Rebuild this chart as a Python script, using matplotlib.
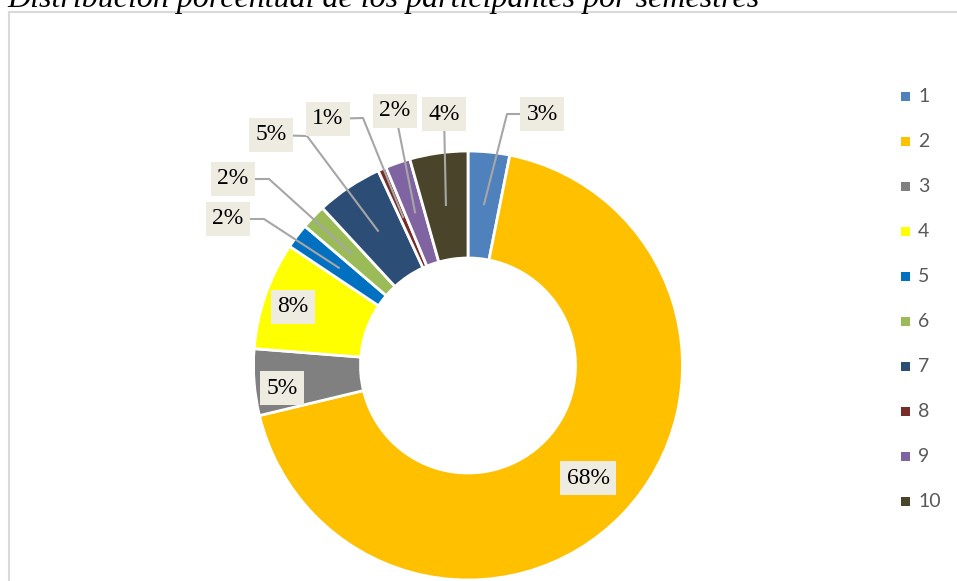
import numpy as np
import matplotlib
matplotlib.use('Agg')
import matplotlib.pyplot as plt
from matplotlib.patches import Rectangle

# semestre -> numero de participantes
semestres = ['1', '2', '3', '4', '5', '6', '7', '8', '9', '10']
participantes = [5, 109, 8, 13, 3, 3, 8, 1, 3, 7]
colores = ['#4F81BD', '#FFC000', '#808080', '#FFFF00', '#0070C0',
           '#9BBB59', '#2C4D75', '#772C2A', '#8064A2', '#4A452A']
titulo = 'Distribución porcentual de los participantes por semestres'

W, H = 957, 581
fig = plt.figure(figsize=(W / 100, H / 100), dpi=100)
ax = fig.add_axes([0, 0, 1, 1])

def py(y):
    # pixel row (top = 0) -> data y
    return H - y

cx, cy = 468, py(365.5)
R, r_in = 214.5, 107.5

wedges, _ = ax.pie(participantes, colors=colores, radius=R, center=(cx, cy),
                   startangle=90, counterclock=False,
                   wedgeprops=dict(width=R - r_in, edgecolor='white', linewidth=2))

ax.set_xlim(0, W)
ax.set_ylim(0, H)
ax.set_aspect('equal')
ax.set_axis_off()

# marco del grafico
ax.add_patch(Rectangle((9, py(900)), 1200, 900 - 11.5, fill=False,
                       edgecolor='#D9D9D9', lw=1.5, zorder=0))

total = sum(participantes)
etiquetas = [f"{v / total * 100:.0f}%" for v in participantes]

# posicion de cada etiqueta (px) y codo de la linea guia
pos_etq = [(542, 114), (588, 478), (282, 388), (293, 307), (228, 219),
           (233, 179), (271, 135), (328, 119), (395, 111), (444, 114)]
codos = [(507, 114), None, None, None, (264, 219),
         (269, 179), (307, 136), (363, 118), 'direct', 'direct']

for i, w in enumerate(wedges):
    tx, ty = pos_etq[i]
    ang = np.deg2rad((w.theta1 + w.theta2) / 2)
    rm = (R + r_in) / 2
    mx, my = cx + rm * np.cos(ang), cy + rm * np.sin(ang)
    if codos[i] is not None:
        xs = [tx]
        ys = [py(ty)]
        if codos[i] != 'direct':
            xs.append(codos[i][0]); ys.append(py(codos[i][1]))
        xs.append(mx); ys.append(my)
        ax.plot(xs, ys, color='#A6A6A6', lw=1.5, zorder=3, solid_capstyle='butt')
    ax.text(tx, py(ty), etiquetas[i], ha='center', va='center', fontsize=17,
            family='Liberation Serif', color='#000000', zorder=5,
            bbox=dict(boxstyle='square,pad=0.28', fc='#EEECE1', ec='none'))

# leyenda
for i, s in enumerate(semestres):
    yy = 96 + 45.1 * i
    ax.add_patch(Rectangle((901, py(yy) - 4.5), 9, 9, fc=colores[i], ec='none'))
    ax.text(918, py(yy), s, ha='left', va='center', fontsize=14,
            family='Lato', color='#595959')

ax.text(7, py(7), titulo, ha='left', va='baseline', fontsize=23,
        family='Liberation Serif', style='italic', color='#000000')

fig.savefig('out.png', dpi=100)
